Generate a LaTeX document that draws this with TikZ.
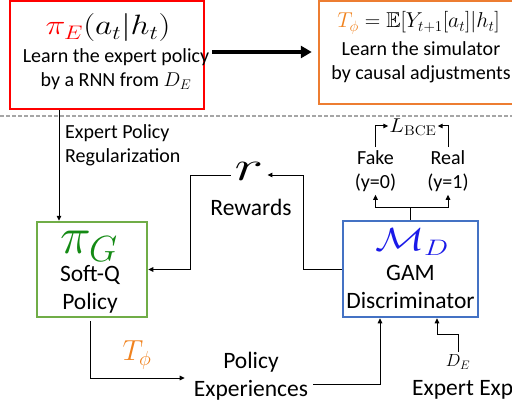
\RequirePackage{fix-cm}
\documentclass[tikz,border=0pt]{standalone}
\usepackage{amssymb}
\usepackage[no-math]{fontspec}
\setmainfont{Carlito}
\usetikzlibrary{arrows.meta,calc}
\definecolor{cRed}{HTML}{FF0000}
\definecolor{cOrange}{HTML}{ED7D31}
\definecolor{cOrangeT}{HTML}{F0821E}
\definecolor{cGreen}{HTML}{70AD47}
\definecolor{cGreenT}{HTML}{148A14}
\definecolor{cBlue}{HTML}{4472C4}
\definecolor{cBlueT}{HTML}{1A1AE8}
\definecolor{cDash}{HTML}{A6A6A6}
\newcommand{\fsz}[1]{\fontsize{#1}{1.2\dimexpr #1pt\relax}\selectfont}
\tikzset{
  box/.style={draw, line width=2.5pt, inner sep=0pt},
  txt/.style={inner sep=0pt, align=center, font=\fsz{20}},
  txtb/.style={inner sep=0pt, align=center, font=\fsz{23.5}},
  arr/.style={line width=1pt, -{Triangle[length=5pt,width=4.5pt]}},
  conn/.style={line width=1pt},
  bigarr/.style={line width=4pt, -{Triangle[length=11pt,width=12pt]}},
}
\begin{document}
\begin{tikzpicture}[x=1pt,y=-1pt]
\useasboundingbox (0,0) rectangle (512,404);
\clip (0,0) rectangle (512,404);
% boxes
\node[box, draw=cRed, minimum width=194pt, minimum height=108pt] (red) at (107,55) {};
\node[box, draw=cOrange, minimum width=212pt, minimum height=103pt] (orange) at (425,52.5) {};
\node[box, draw=cGreen, minimum width=110pt, minimum height=95pt] (green) at (92,269.5) {};
\node[box, draw=cBlue, minimum width=135pt, minimum height=96pt] (blue) at (410.5,269) {};
% dashed separator
\coordinate (dl) at (0,116);
\coordinate (dr) at (512,116);
\draw[cDash, line width=1.2pt, dash pattern=on 4pt off 2pt] (dl) -- (dr);
% red box text
\node[txt, font=\fsz{28}] (piE) at (108,28) {\scalebox{1.2}[1]{$\color{cRed}\pi_E\color{black}(a_t|h_t)$}};
\node[txt] (redtxt) at (116,69) {Learn the expert policy\\by a RNN from $D_E$};
% orange box text
\node[txt, font=\fsz{21.5}] (Tphi) at (418.5,23) {$\color{cOrangeT}T_\phi\color{black} = \mathbb{E}[Y_{t+1}[a_t]|h_t]$};
\node[txt] (orangetxt) at (421,62.5) {Learn the simulator\\by causal adjustments};
% green box text
\node[txt, font=\fsz{52}] (piG) at (89,246) {$\color{cGreenT}\pi_G$};
\node[txtb] (greentxt) at (90,289) {Soft-Q\\Policy};
% blue box text
\node[txt, font=\fsz{32}] (MD) at (412,242) {\scalebox{1.28}[1]{$\color{cBlueT}\mathcal{M}_D$}};
\node[txtb] (bluetxt) at (410.5,287) {GAM\\Discriminator};
% rewards
\node[txt, font=\fsz{42}] (r) at (249,171) {\scalebox{1.45}[1]{$r$}};
\node[txtb] (rew) at (251,207) {Rewards};
% expert policy regularization
\node[txt, align=left, anchor=west] (epr) at (65,145) {Expert Policy\\Regularization};
% fake / real
\node[txt] (fake) at (375.5,171) {Fake\\(y=0)};
\node[txt] (real) at (448,171) {Real\\(y=1)};
\node[txt, font=\fsz{20}] (lbce) at (413,127) {\scalebox{1.1}[1]{$L_{\mathrm{BCE}}$}};
% bottom
\node[txt, font=\fsz{29}] (Tb) at (137,355) {$\color{cOrangeT}T_\phi$};
\node[txtb] (pexp) at (251,376.5) {Policy\\Experiences};
\node[txt, font=\fsz{17.5}] (DE) at (458,362) {$D_E$};
\node[txtb, anchor=base west] (eexp) at (412,395) {Expert Experiences};
% connectors
\draw[bigarr] ([xshift=7pt,yshift=3pt]red.east) -- ([xshift=-6pt,yshift=3pt]red.east -| orange.west);
\draw[arr] ([xshift=-48pt]red.south) -- ([xshift=-48pt]red.south |- green.north);
\draw[arr] (blue.west) -- ++(-38,0) |- ([xshift=4pt,yshift=-4pt]r.east);
\draw[arr] ([xshift=-4pt,yshift=-4pt]r.west) -| ++(-40,0) |- (green.east);
\draw[arr] ([xshift=-2pt,yshift=-3pt]green.south) |- ([xshift=-9pt,yshift=-1.5pt]pexp.west);
\draw[arr] ([xshift=5pt,yshift=-7.5pt]pexp.east) -| ([xshift=-30.5pt]blue.south);
\draw[conn] (blue.north) -- ++(0,-12) coordinate (bt);
\draw[arr] (bt) -| ([yshift=-3pt]fake.south);
\draw[arr] (bt) -| ([yshift=-3pt]real.south);
\draw[arr] ([yshift=3pt]fake.north) |- ([xshift=-1pt,yshift=1pt]lbce.west);
\draw[arr] ([yshift=3pt]real.north) |- ([xshift=1pt,yshift=1pt]lbce.east);
\draw[arr] ([yshift=3pt]DE.north) -- ++(0,-17) -| ([xshift=26.5pt]blue.south);
\end{tikzpicture}
\end{document}
